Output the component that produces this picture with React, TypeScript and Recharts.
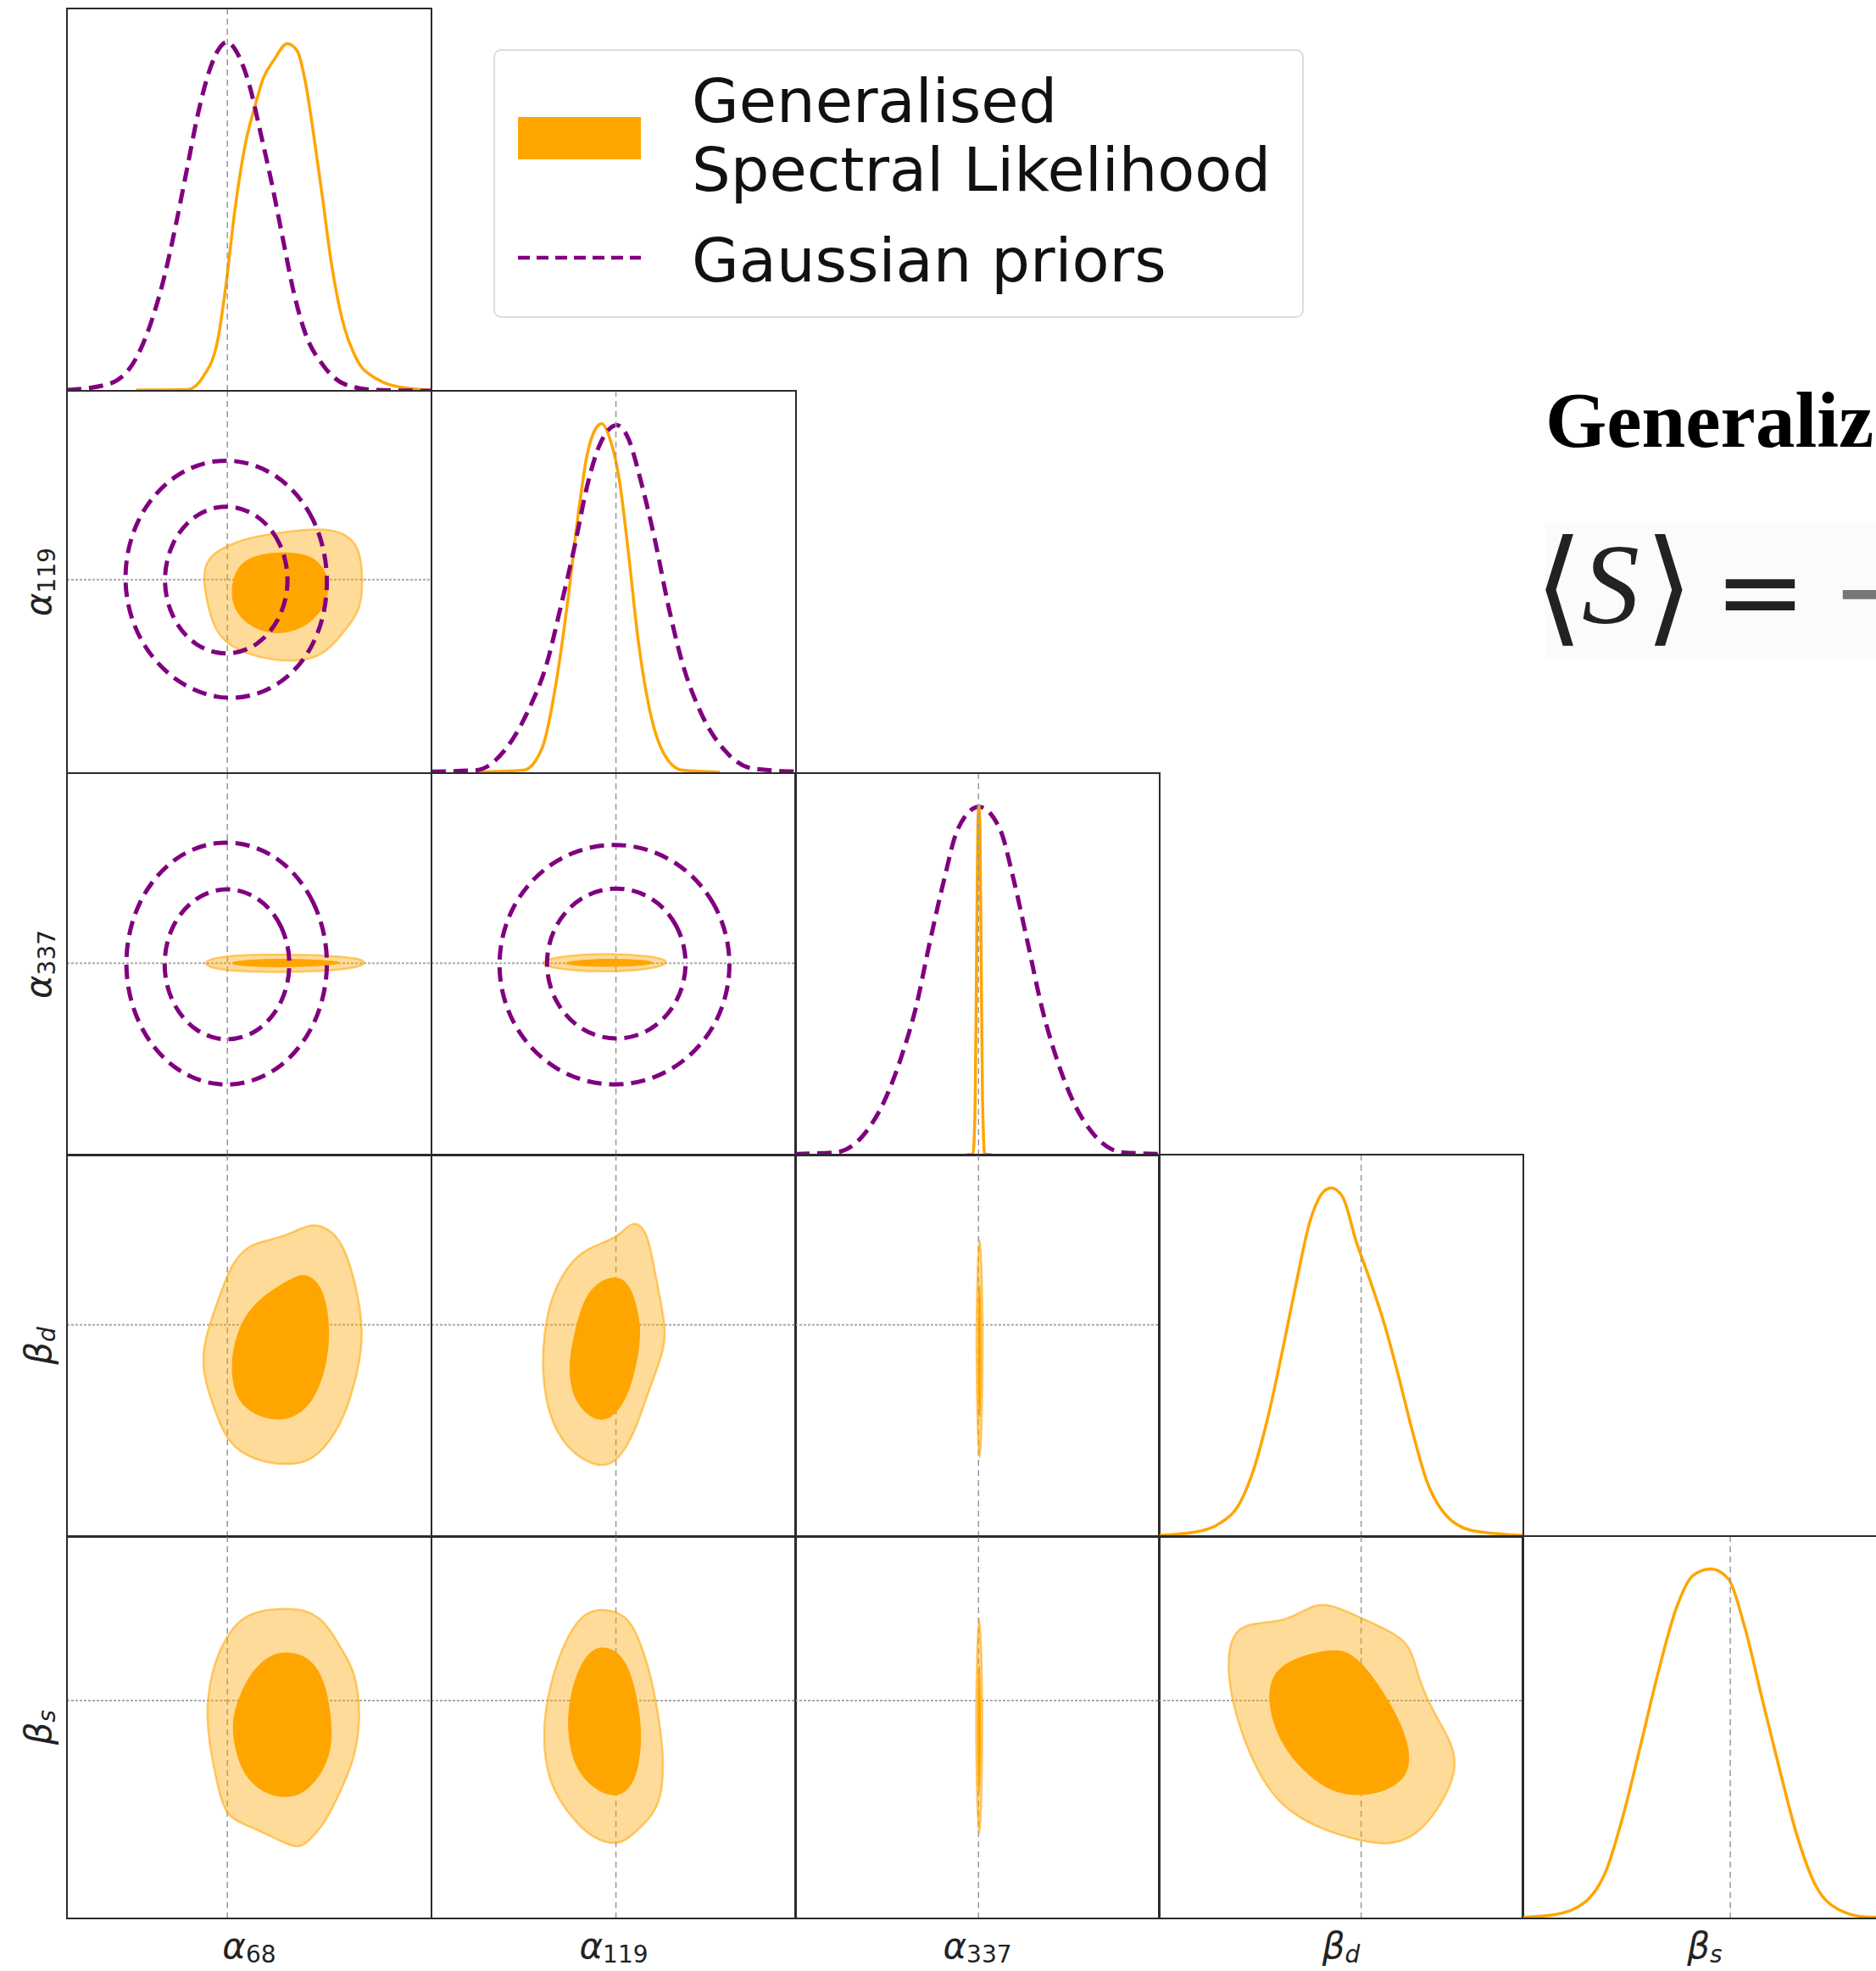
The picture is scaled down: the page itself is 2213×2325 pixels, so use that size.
import React from "react";
import { ComposedChart, XAxis, YAxis, Line, Scatter, ReferenceLine } from "recharts";

const ORANGE = "#ffa500";
const PURPLE = "#800080";

const PANEL_W = 430;
const PANEL_H = 451;
const COL_X = [79, 509, 938, 1367, 1796];
const ROW_Y = [10, 461, 912, 1362, 1812];

// parameters: symbol, subscript and fiducial value (in panel units, 0..1)
const PARAM_SYMBOLS = ["α", "α", "α", "β", "β"];
const PARAM_SUBS = ["68", "119", "337", "d", "s"];
const TRUTH = [0.44, 0.506, 0.503, 0.555, 0.57];

const LEGEND_LABELS = ["Generalised", "Spectral Likelihood", "Gaussian priors"];

// 1D marginals [x, density]
const A68_GSL = [[0.19, 0.002], [0.33, 0.003], [0.375, 0.039], [0.414, 0.135], [0.437, 0.283], [0.46, 0.468], [0.491, 0.653], [0.515, 0.742], [0.538, 0.816], [0.569, 0.867], [0.604, 0.908], [0.631, 0.89], [0.654, 0.808], [0.677, 0.668], [0.701, 0.505], [0.724, 0.342], [0.755, 0.187], [0.794, 0.084], [0.848, 0.032], [0.926, 0.008], [1.0, 0.002]];
const A68_PRIOR = [[0, 0.002], [0.112, 0.017], [0.189, 0.084], [0.236, 0.194], [0.267, 0.298], [0.298, 0.431], [0.329, 0.579], [0.36, 0.727], [0.391, 0.838], [0.414, 0.89], [0.439, 0.912], [0.468, 0.882], [0.5, 0.801], [0.531, 0.675], [0.562, 0.542], [0.593, 0.394], [0.623, 0.254], [0.654, 0.15], [0.701, 0.069], [0.763, 0.017], [0.848, 0.002], [1, 0]];
const A119_GSL = [[0.124, 0.003], [0.253, 0.008], [0.304, 0.067], [0.342, 0.237], [0.374, 0.452], [0.4, 0.658], [0.426, 0.828], [0.451, 0.902], [0.467, 0.914], [0.49, 0.873], [0.515, 0.769], [0.541, 0.57], [0.567, 0.348], [0.599, 0.163], [0.637, 0.052], [0.688, 0.008], [0.791, 0.003]];
const A119_PRIOR = [[0, 0.004], [0.124, 0.008], [0.201, 0.06], [0.265, 0.163], [0.317, 0.289], [0.355, 0.437], [0.394, 0.599], [0.426, 0.747], [0.458, 0.851], [0.483, 0.895], [0.509, 0.91], [0.541, 0.873], [0.573, 0.769], [0.612, 0.614], [0.65, 0.437], [0.688, 0.289], [0.74, 0.156], [0.804, 0.06], [0.881, 0.012], [1, 0.004]];
const A337_GSL = [[0.47, 0.002], [0.488, 0.004], [0.494, 0.15], [0.498, 0.55], [0.501, 0.85], [0.504, 0.915], [0.507, 0.85], [0.51, 0.55], [0.514, 0.15], [0.52, 0.004], [0.54, 0.002]];
const A337_PRIOR = [[0, 0.004], [0.11, 0.008], [0.187, 0.053], [0.244, 0.141], [0.292, 0.26], [0.331, 0.386], [0.369, 0.556], [0.408, 0.719], [0.446, 0.853], [0.504, 0.912], [0.562, 0.853], [0.6, 0.719], [0.638, 0.556], [0.677, 0.386], [0.715, 0.26], [0.763, 0.141], [0.821, 0.053], [0.898, 0.008], [1, 0.004]];
const BD_GSL = [[0, 0.004], [0.095, 0.012], [0.171, 0.038], [0.223, 0.09], [0.261, 0.179], [0.299, 0.312], [0.338, 0.482], [0.376, 0.66], [0.414, 0.823], [0.453, 0.904], [0.473, 0.913], [0.504, 0.89], [0.542, 0.771], [0.581, 0.667], [0.619, 0.556], [0.657, 0.423], [0.696, 0.275], [0.734, 0.149], [0.785, 0.06], [0.862, 0.016], [1, 0.004]];
const BS_GSL = [[0, 0.003], [0.089, 0.01], [0.168, 0.04], [0.231, 0.129], [0.278, 0.276], [0.326, 0.461], [0.373, 0.646], [0.421, 0.809], [0.468, 0.897], [0.516, 0.914], [0.563, 0.89], [0.611, 0.757], [0.658, 0.572], [0.706, 0.387], [0.753, 0.217], [0.801, 0.092], [0.864, 0.025], [0.943, 0.004], [1, 0.003]];

// 2D contours [x, y], outer = 95%, inner = 68%
const A119_A68_OUT = [[0.382, 0.556], [0.42, 0.588], [0.499, 0.617], [0.601, 0.632], [0.691, 0.64], [0.756, 0.632], [0.803, 0.594], [0.812, 0.511], [0.807, 0.427], [0.764, 0.375], [0.725, 0.329], [0.679, 0.299], [0.614, 0.292], [0.535, 0.299], [0.445, 0.33], [0.405, 0.376], [0.386, 0.437], [0.373, 0.511]];
const A119_A68_IN = [[0.47, 0.551], [0.536, 0.575], [0.628, 0.579], [0.695, 0.558], [0.722, 0.496], [0.708, 0.434], [0.655, 0.38], [0.575, 0.361], [0.508, 0.38], [0.461, 0.42], [0.448, 0.481]];
const A119_A68_P2 = [[0.725, 0.507], [0.686, 0.67], [0.581, 0.788], [0.436, 0.832], [0.292, 0.788], [0.186, 0.67], [0.147, 0.507], [0.19, 0.345], [0.305, 0.226], [0.452, 0.182], [0.595, 0.228], [0.692, 0.345]];
const A119_A68_P1 = [[0.613, 0.505], [0.589, 0.606], [0.525, 0.679], [0.437, 0.706], [0.349, 0.679], [0.285, 0.606], [0.261, 0.505], [0.285, 0.405], [0.349, 0.331], [0.437, 0.304], [0.525, 0.331], [0.589, 0.405]];

const A337_A68_OUT = [[0.372, 0.503], [0.4, 0.517], [0.48, 0.525], [0.6, 0.526], [0.72, 0.523], [0.8, 0.516], [0.822, 0.505], [0.8, 0.491], [0.7, 0.482], [0.58, 0.479], [0.46, 0.482], [0.4, 0.489]];
const A337_A68_IN = [[0.43, 0.503], [0.5, 0.512], [0.6, 0.514], [0.7, 0.511], [0.77, 0.504], [0.7, 0.496], [0.6, 0.493], [0.5, 0.494]];
const A337_A68_P2 = [[0.726, 0.502], [0.687, 0.668], [0.582, 0.789], [0.438, 0.833], [0.294, 0.789], [0.189, 0.668], [0.15, 0.502], [0.189, 0.337], [0.294, 0.215], [0.438, 0.171], [0.582, 0.215], [0.687, 0.337]];
const A337_A68_P1 = [[0.618, 0.5], [0.594, 0.603], [0.529, 0.678], [0.439, 0.705], [0.35, 0.678], [0.284, 0.603], [0.26, 0.5], [0.284, 0.398], [0.35, 0.322], [0.439, 0.295], [0.529, 0.322], [0.594, 0.398]];

const A337_A119_OUT = [[0.295, 0.503], [0.33, 0.517], [0.4, 0.525], [0.48, 0.527], [0.56, 0.525], [0.63, 0.517], [0.652, 0.505], [0.62, 0.491], [0.55, 0.483], [0.47, 0.481], [0.39, 0.484], [0.33, 0.491]];
const A337_A119_IN = [[0.35, 0.503], [0.42, 0.512], [0.5, 0.514], [0.58, 0.511], [0.62, 0.504], [0.57, 0.496], [0.48, 0.494], [0.4, 0.496]];
const A337_A119_P2 = [[0.832, 0.499], [0.788, 0.663], [0.667, 0.783], [0.502, 0.827], [0.337, 0.783], [0.216, 0.663], [0.172, 0.499], [0.216, 0.335], [0.337, 0.215], [0.502, 0.171], [0.667, 0.215], [0.788, 0.335]];
const A337_A119_P1 = [[0.706, 0.502], [0.679, 0.605], [0.607, 0.68], [0.507, 0.707], [0.408, 0.68], [0.335, 0.605], [0.308, 0.502], [0.335, 0.4], [0.408, 0.324], [0.507, 0.297], [0.607, 0.324], [0.679, 0.4]];

const BD_A68_OUT = [[0.67, 0.821], [0.614, 0.793], [0.55, 0.775], [0.499, 0.764], [0.455, 0.719], [0.43, 0.66], [0.396, 0.571], [0.373, 0.497], [0.373, 0.423], [0.404, 0.334], [0.44, 0.245], [0.512, 0.2], [0.609, 0.186], [0.678, 0.2], [0.742, 0.275], [0.78, 0.364], [0.813, 0.497], [0.806, 0.601], [0.78, 0.704], [0.754, 0.771], [0.716, 0.808]];
const BD_A68_IN = [[0.652, 0.69], [0.614, 0.675], [0.524, 0.623], [0.473, 0.556], [0.448, 0.46], [0.46, 0.364], [0.512, 0.319], [0.588, 0.301], [0.652, 0.327], [0.696, 0.393], [0.721, 0.497], [0.716, 0.601], [0.691, 0.667]];
const BD_A119_OUT = [[0.554, 0.83], [0.521, 0.793], [0.477, 0.771], [0.431, 0.756], [0.379, 0.719], [0.328, 0.63], [0.308, 0.534], [0.303, 0.423], [0.323, 0.312], [0.367, 0.238], [0.418, 0.2], [0.469, 0.182], [0.513, 0.2], [0.559, 0.275], [0.597, 0.386], [0.636, 0.482], [0.644, 0.541], [0.623, 0.645], [0.605, 0.734], [0.59, 0.801]];
const BD_A119_IN = [[0.508, 0.684], [0.456, 0.667], [0.418, 0.623], [0.392, 0.534], [0.374, 0.438], [0.392, 0.349], [0.456, 0.297], [0.508, 0.319], [0.546, 0.386], [0.572, 0.497], [0.572, 0.571], [0.546, 0.66]];
const BD_A337_OUT = [[0.506, 0.815], [0.512, 0.7], [0.515, 0.55], [0.514, 0.4], [0.511, 0.27], [0.506, 0.176], [0.501, 0.27], [0.498, 0.4], [0.497, 0.55], [0.5, 0.7]];
const BD_A337_IN = [[0.506, 0.7], [0.509, 0.58], [0.5095, 0.45], [0.508, 0.34], [0.506, 0.3], [0.504, 0.34], [0.5025, 0.45], [0.503, 0.58]];

const BS_A68_OUT = [[0.601, 0.812], [0.522, 0.805], [0.468, 0.779], [0.427, 0.72], [0.396, 0.646], [0.38, 0.535], [0.396, 0.424], [0.421, 0.313], [0.443, 0.262], [0.506, 0.239], [0.57, 0.21], [0.633, 0.18], [0.665, 0.203], [0.712, 0.254], [0.759, 0.35], [0.791, 0.424], [0.807, 0.535], [0.791, 0.646], [0.753, 0.705], [0.712, 0.772], [0.665, 0.805]];
const BS_A68_IN = [[0.601, 0.699], [0.554, 0.687], [0.506, 0.646], [0.468, 0.572], [0.449, 0.498], [0.475, 0.387], [0.532, 0.328], [0.617, 0.31], [0.68, 0.35], [0.722, 0.424], [0.728, 0.498], [0.712, 0.609], [0.671, 0.683]];
const BS_A119_OUT = [[0.463, 0.814], [0.41, 0.794], [0.362, 0.72], [0.324, 0.609], [0.305, 0.498], [0.314, 0.387], [0.346, 0.313], [0.394, 0.254], [0.441, 0.21], [0.514, 0.188], [0.559, 0.225], [0.6, 0.262], [0.632, 0.313], [0.638, 0.424], [0.622, 0.535], [0.6, 0.646], [0.568, 0.735], [0.537, 0.794]];
const BS_A119_IN = [[0.463, 0.714], [0.425, 0.69], [0.394, 0.631], [0.371, 0.535], [0.381, 0.424], [0.425, 0.35], [0.505, 0.31], [0.559, 0.35], [0.578, 0.461], [0.568, 0.557], [0.546, 0.646], [0.514, 0.698]];
const BS_A337_OUT = [[0.505, 0.822], [0.511, 0.7], [0.514, 0.55], [0.513, 0.4], [0.51, 0.28], [0.505, 0.196], [0.5, 0.28], [0.497, 0.4], [0.496, 0.55], [0.499, 0.7]];
const BS_A337_IN = [[0.505, 0.7], [0.508, 0.58], [0.5085, 0.45], [0.507, 0.36], [0.505, 0.32], [0.503, 0.36], [0.5015, 0.45], [0.502, 0.58]];
const BS_BD_OUT = [[0.43, 0.822], [0.377, 0.794], [0.329, 0.775], [0.234, 0.772], [0.196, 0.735], [0.187, 0.646], [0.209, 0.535], [0.25, 0.424], [0.313, 0.313], [0.408, 0.247], [0.519, 0.21], [0.63, 0.188], [0.709, 0.217], [0.772, 0.291], [0.82, 0.387], [0.804, 0.461], [0.756, 0.535], [0.709, 0.631], [0.693, 0.72], [0.614, 0.761], [0.519, 0.802], [0.472, 0.82]];
const BS_BD_IN = [[0.472, 0.704], [0.377, 0.683], [0.313, 0.646], [0.297, 0.572], [0.329, 0.461], [0.408, 0.373], [0.487, 0.324], [0.582, 0.321], [0.661, 0.35], [0.693, 0.402], [0.677, 0.483], [0.63, 0.572], [0.566, 0.66], [0.519, 0.698]];

const toPts = (a: number[][]) => a.map(([x, y]) => ({ x, y }));
const noDot = () => <g />;

function gslLine(d: number[][]) {
  return <Line key="gsl" data={toPts(d)} dataKey="y" type="monotone" stroke={ORANGE} strokeWidth={3.5} dot={false} activeDot={false} isAnimationActive={false} />;
}

function priorLine(d: number[][]) {
  return <Line key="prior" data={toPts(d)} dataKey="y" type="monotone" stroke={PURPLE} strokeWidth={5} strokeDasharray="17 9" dot={false} activeDot={false} isAnimationActive={false} />;
}

function gslContours(outer: number[][], inner: number[][]) {
  return [
    <Scatter key="c95" data={toPts(outer)} shape={noDot} lineJointType="basisClosed" isAnimationActive={false}
      line={{ fill: ORANGE, fillOpacity: 0.4, stroke: ORANGE, strokeOpacity: 0.55, strokeWidth: 2.5 }} />,
    <Scatter key="c68" data={toPts(inner)} shape={noDot} lineJointType="basisClosed" isAnimationActive={false}
      line={{ fill: ORANGE, fillOpacity: 1, stroke: ORANGE, strokeWidth: 1 }} />,
  ];
}

function priorContours(two: number[][], one: number[][]) {
  return [two, one].map((c, i) => (
    <Scatter key={"p" + i} data={toPts(c)} shape={noDot} lineJointType="basisClosed" isAnimationActive={false}
      line={{ fill: "none", stroke: PURPLE, strokeWidth: 5, strokeDasharray: "17 9" }} />
  ));
}

function Panel({ row, col, children }: { row: number; col: number; children: React.ReactNode }) {
  return (
    <div style={{ position: "absolute", left: COL_X[col], top: ROW_Y[row], width: PANEL_W, height: PANEL_H }}>
      <ComposedChart width={PANEL_W} height={PANEL_H} margin={{ top: 0, right: 0, bottom: 0, left: 0 }}>
        <XAxis type="number" dataKey="x" domain={[0, 1]} hide allowDataOverflow />
        <YAxis type="number" dataKey="y" domain={[0, 1]} hide allowDataOverflow />
        {children}
        <ReferenceLine x={TRUTH[col]} stroke="#999" strokeWidth={1.5} strokeDasharray="7 5" />
        {row !== col && <ReferenceLine y={TRUTH[row]} stroke="#aaa" strokeWidth={2} strokeDasharray="3 2" />}
      </ComposedChart>
      <div style={{ position: "absolute", left: -1, top: -1, right: -1, bottom: -1, border: "2px solid #2b2b2b", pointerEvents: "none" }} />
    </div>
  );
}

function AxisLabel({ i, x, y, vertical }: { i: number; x: number; y: number; vertical?: boolean }) {
  const subItalic = i >= 3;
  return (
    <text x={x} y={y} textAnchor="middle" fontFamily="DejaVu Sans" fontSize={42} fill="#222"
      transform={vertical ? `rotate(-90 ${x} ${y})` : undefined}>
      <tspan fontStyle="italic">{PARAM_SYMBOLS[i]}</tspan>
      <tspan fontSize={28} dy={5} fontStyle={subItalic ? "italic" : "normal"}>{PARAM_SUBS[i]}</tspan>
    </text>
  );
}

export default function App() {
  return (
    <div style={{ position: "absolute", left: 0, top: 0, width: 2213, height: 2325, overflow: "hidden", background: "#fff" }}>
      <Panel row={0} col={0}>{[gslLine(A68_GSL), priorLine(A68_PRIOR)]}</Panel>

      <Panel row={1} col={0}>{[...gslContours(A119_A68_OUT, A119_A68_IN), ...priorContours(A119_A68_P2, A119_A68_P1)]}</Panel>
      <Panel row={1} col={1}>{[gslLine(A119_GSL), priorLine(A119_PRIOR)]}</Panel>

      <Panel row={2} col={0}>{[...gslContours(A337_A68_OUT, A337_A68_IN), ...priorContours(A337_A68_P2, A337_A68_P1)]}</Panel>
      <Panel row={2} col={1}>{[...gslContours(A337_A119_OUT, A337_A119_IN), ...priorContours(A337_A119_P2, A337_A119_P1)]}</Panel>
      <Panel row={2} col={2}>{[priorLine(A337_PRIOR), gslLine(A337_GSL)]}</Panel>

      <Panel row={3} col={0}>{gslContours(BD_A68_OUT, BD_A68_IN)}</Panel>
      <Panel row={3} col={1}>{gslContours(BD_A119_OUT, BD_A119_IN)}</Panel>
      <Panel row={3} col={2}>{gslContours(BD_A337_OUT, BD_A337_IN)}</Panel>
      <Panel row={3} col={3}>{[gslLine(BD_GSL)]}</Panel>

      <Panel row={4} col={0}>{gslContours(BS_A68_OUT, BS_A68_IN)}</Panel>
      <Panel row={4} col={1}>{gslContours(BS_A119_OUT, BS_A119_IN)}</Panel>
      <Panel row={4} col={2}>{gslContours(BS_A337_OUT, BS_A337_IN)}</Panel>
      <Panel row={4} col={3}>{gslContours(BS_BD_OUT, BS_BD_IN)}</Panel>
      <Panel row={4} col={4}>{[gslLine(BS_GSL)]}</Panel>

      <svg width={2213} height={2325} style={{ position: "absolute", left: 0, top: 0, pointerEvents: "none" }}>
        {/* legend */}
        <rect x={583} y={59} width={954} height={315} rx={8} fill="#fff" stroke="#dcdcdc" strokeWidth={2} />
        <rect x={611} y={138} width={145} height={50} fill={ORANGE} />
        <line x1={611} y1={304} x2={756} y2={304} stroke={PURPLE} strokeWidth={4.5} strokeDasharray="14 8" />
        <g fontFamily="DejaVu Sans" fontSize={72} fill="#111">
          <text x={816} y={144}>{LEGEND_LABELS[0]}</text>
          <text x={816} y={225}>{LEGEND_LABELS[1]}</text>
          <text x={816} y={332}>{LEGEND_LABELS[2]}</text>
        </g>

        {/* axis labels */}
        {COL_X.map((x, i) => (
          <AxisLabel key={"bx" + i} i={i} x={x + PANEL_W / 2} y={2310} />
        ))}
        {ROW_Y.slice(1).map((y, k) => (
          <AxisLabel key={"ly" + k} i={k + 1} x={60} y={y + PANEL_H / 2} vertical />
        ))}

        {/* text beside the figure */}
        <text x={1823} y={527} fontFamily="Liberation Serif" fontWeight="bold" fontSize={93} fill="#000">Generaliz</text>
        <rect x={1823} y={617} width={390} height={161} fill="#fbfbfb" />
        <text x={1810} y={742} fontSize={148} fontFamily="DejaVu Serif" fill="#222">⟨</text>
        <text x={1866} y={735} fontSize={136} fontFamily="Liberation Serif" fontStyle="italic" fill="#222">S</text>
        <text x={1940} y={742} fontSize={148} fontFamily="DejaVu Serif" fill="#222">⟩</text>
        <text x={2022} y={742} fontSize={130} fontFamily="DejaVu Sans" fill="#222">=</text>
        <text x={2160} y={742} fontSize={130} fontFamily="DejaVu Sans" fill="#777">−</text>
      </svg>
    </div>
  );
}
